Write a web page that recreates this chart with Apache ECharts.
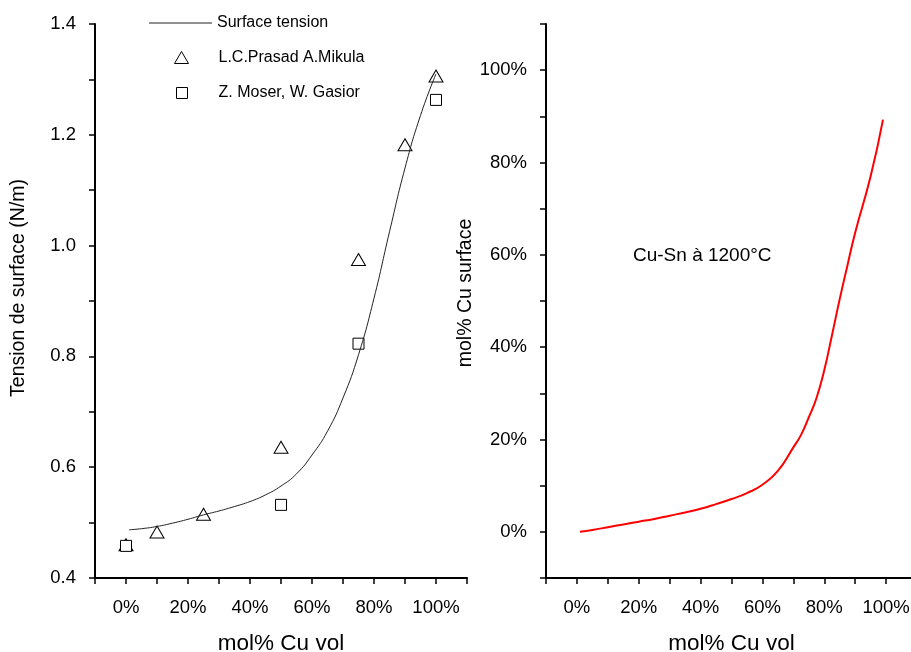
<!DOCTYPE html>
<html>
<head>
<meta charset="utf-8">
<script src="https://cdn.jsdelivr.net/npm/echarts@6/dist/echarts.min.js"></script>
<style>html,body{margin:0;padding:0;background:#fff}#c{width:911px;height:652px}</style>
</head>
<body>
<div id="c"></div>
<script>
// ---- data ----
const xLine = [1, 5, 10, 15, 20, 25, 30, 35, 40, 45, 50, 55, 60, 65, 70, 75, 80, 85, 90, 95, 100];
const tensionLine = [0.487, 0.489, 0.493, 0.499, 0.506, 0.514, 0.521, 0.529, 0.538, 0.550, 0.566, 0.588, 0.622, 0.665, 0.725, 0.803, 0.905, 1.025, 1.140, 1.235, 1.310];
const xPrasad = [0, 10, 25, 50, 75, 90, 100];
const prasad = [0.460, 0.483, 0.515, 0.636, 0.975, 1.182, 1.306];
const xMoser = [0, 50, 75, 100];
const moser = [0.458, 0.532, 0.823, 1.263];
const xSurface = [1, 5, 10, 15, 20, 25, 30, 35, 40, 45, 50, 55, 60, 65, 70, 72.5, 75, 77.5, 80, 82.5, 85, 87.5, 90, 95, 99];
const cuSurface = [0, 0.4, 1.0, 1.6, 2.2, 2.8, 3.5, 4.2, 5.0, 6.0, 7.1, 8.4, 10.2, 13.2, 18.3, 21.0, 24.8, 29.0, 35.0, 42.6, 50.4, 57.7, 64.8, 77.0, 89.3];
const seriesNames = ['Surface tension', 'L.C.Prasad A.Mikula', 'Z. Moser, W. Gasior'];
const xAxisTitle = 'mol% Cu vol';
const yLeftTitle = 'Tension de surface (N/m)';
const yRightTitle = 'mol% Cu surface';
const annotation = 'Cu-Sn à 1200°C';

const FONT = '"Liberation Sans", Arial, sans-serif';
const pairs = (xs, ys) => xs.map((x, i) => [x, ys[i]]);

const axisLine = { show: true, onZero: false, lineStyle: { color: '#000', width: 2 } };
const axisTick = { show: true, inside: false, length: 6, lineStyle: { color: '#000', width: 1.5 } };
const pctFmt = v => (Math.round(v) % 20 === 0 && v >= 0 && v <= 100) ? Math.round(v) + '%' : '';
const labelStyle = { color: '#000', fontSize: 18.5, fontFamily: FONT, margin: 19 };

function xAx(grid) {
  return {
    type: 'value', gridIndex: grid, min: -10, max: 110, interval: 10,
    axisLine, axisTick, splitLine: { show: false },
    axisLabel: Object.assign({}, labelStyle, { formatter: pctFmt, margin: 20 }),
    name: xAxisTitle, nameLocation: 'middle', nameGap: 54,
    nameTextStyle: { color: '#000', fontSize: 22.5, fontFamily: FONT }
  };
}

const option = {
  backgroundColor: '#fff',
  animation: false,
  textStyle: { fontFamily: FONT },
  grid: [
    { left: 95, right: 444, top: 24, bottom: 74, containLabel: false, outerBoundsMode: 'none' },
    { left: 546, right: -6, top: 24, bottom: 74, containLabel: false, outerBoundsMode: 'none' }
  ],
  xAxis: [xAx(0), xAx(1)],
  yAxis: [
    {
      type: 'value', gridIndex: 0, min: 0.4, max: 1.4, interval: 0.1,
      axisLine, axisTick, splitLine: { show: false },
      axisLabel: Object.assign({}, labelStyle, {
        formatter: v => (Math.round(v * 10) % 2 === 0) ? v.toFixed(1) : ''
      }),
      name: yLeftTitle, nameLocation: 'middle', nameGap: 66, nameRotate: 90,
      nameTextStyle: { color: '#000', fontSize: 19.5, fontFamily: FONT, padding: [0, 0, 0, 26] }
    },
    {
      type: 'value', gridIndex: 1, min: -10, max: 110, interval: 10,
      axisLine, axisTick, splitLine: { show: false },
      axisLabel: Object.assign({}, labelStyle, { formatter: pctFmt }),
      name: yRightTitle, nameLocation: 'middle', nameGap: 69, nameRotate: 90,
      nameTextStyle: { color: '#000', fontSize: 19.5, fontFamily: FONT, padding: [0, 0, 0, 16] }
    }
  ],
  legend: [
    {
      data: [{ name: seriesNames[0], icon: 'rect' }], left: 149, top: 15, padding: 0, itemWidth: 63, itemHeight: 1, itemGap: 0,
      itemStyle: { color: '#222', borderWidth: 0 },
      textStyle: { color: '#000', fontSize: 16, fontFamily: FONT }
    },
    {
      data: [{ name: seriesNames[1], icon: 'triangle' }], left: 174, top: 49.5, padding: 0, itemWidth: 14, itemHeight: 12,
      itemStyle: { color: '#fff', borderColor: '#000', borderWidth: 1 },
      textStyle: { color: '#000', fontSize: 16, fontFamily: FONT, padding: [0, 0, 0, 25] }
    },
    {
      data: [{ name: seriesNames[2], icon: 'rect' }], left: 176, top: 85, padding: 0, itemWidth: 11, itemHeight: 11,
      itemStyle: { color: '#fff', borderColor: '#000', borderWidth: 1 },
      textStyle: { color: '#000', fontSize: 16, fontFamily: FONT, padding: [0, 0, 0, 26] }
    }
  ],
  graphic: [
    {
      type: 'text', left: 633, top: 246,
      style: { text: annotation, fill: '#000', fontSize: 19, fontFamily: FONT }
    }
  ],
  series: [
    {
      name: seriesNames[0], type: 'line', xAxisIndex: 0, yAxisIndex: 0,
      data: pairs(xLine, tensionLine), smooth: true, symbol: 'none', showSymbol: false,
      lineStyle: { color: '#222', width: 1 }, itemStyle: { color: '#222' }
    },
    {
      name: seriesNames[1], type: 'scatter', xAxisIndex: 0, yAxisIndex: 0,
      data: pairs(xPrasad, prasad), symbol: 'triangle', symbolSize: [14, 12],
      itemStyle: { color: '#fff', borderColor: '#000', borderWidth: 1, opacity: 1 }
    },
    {
      name: seriesNames[2], type: 'scatter', xAxisIndex: 0, yAxisIndex: 0,
      data: pairs(xMoser, moser), symbol: 'rect', symbolSize: 11,
      itemStyle: { color: '#fff', borderColor: '#000', borderWidth: 1, opacity: 1 }
    },
    {
      name: 'Cu surface', type: 'line', xAxisIndex: 1, yAxisIndex: 1,
      data: pairs(xSurface, cuSurface), smooth: true, symbol: 'none', showSymbol: false,
      lineStyle: { color: '#ff0000', width: 2 }, itemStyle: { color: '#ff0000' }
    }
  ]
};

const chart = echarts.init(document.getElementById('c'), null, { renderer: 'canvas' });
chart.setOption(option);
</script>
</body>
</html>
